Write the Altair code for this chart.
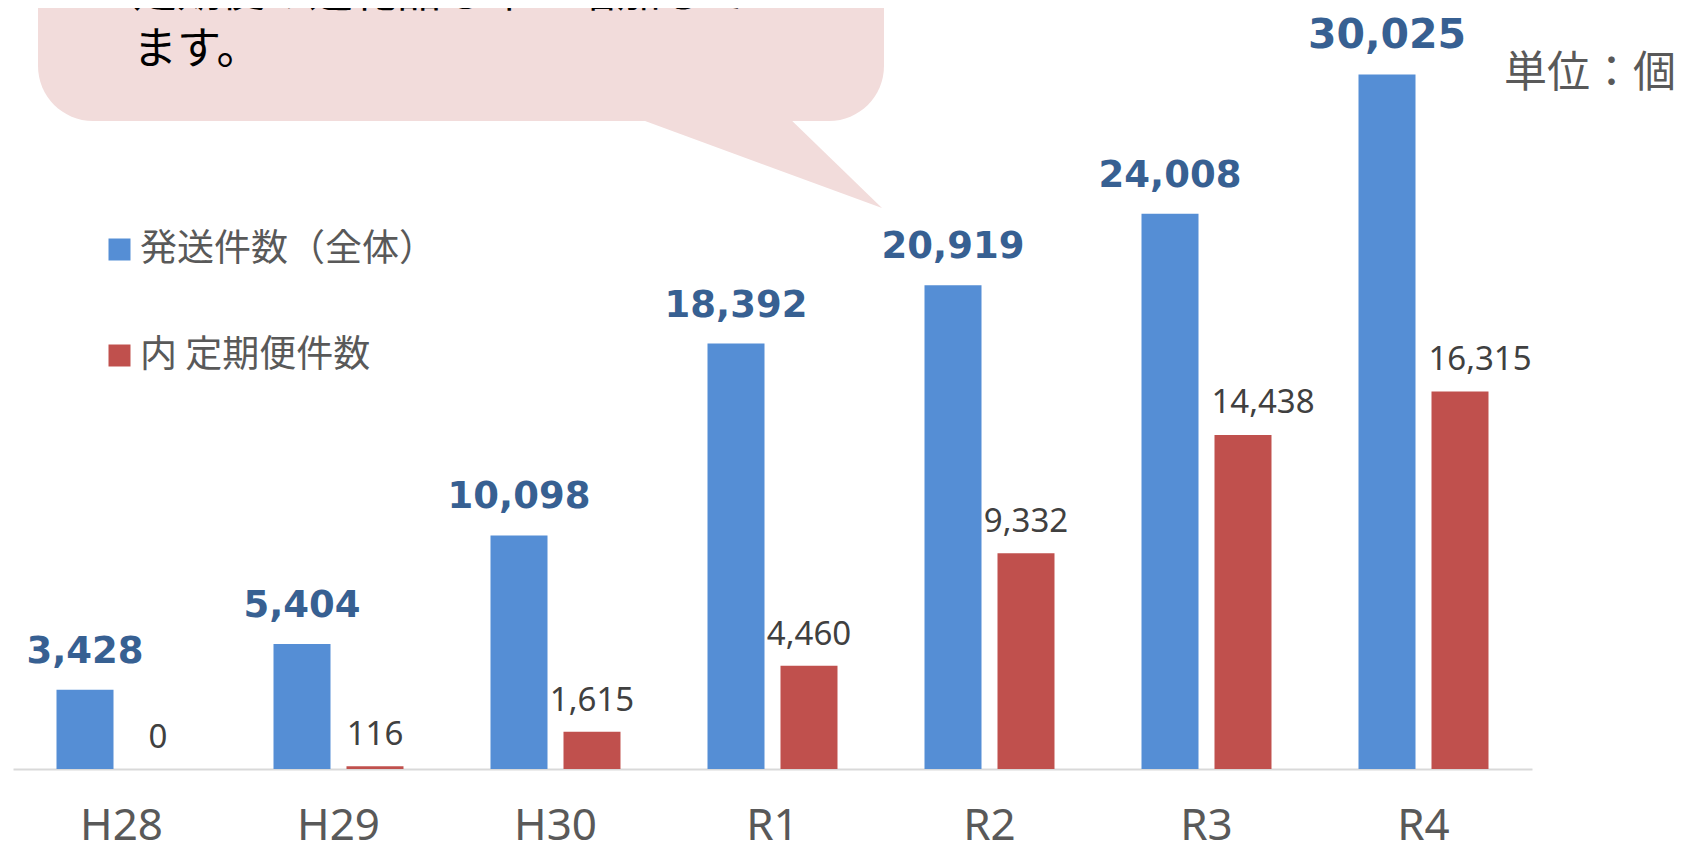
import altair as alt
import pandas as pd

years = ["H28", "H29", "H30", "R1", "R2", "R3", "R4"]
total = [3428, 5404, 10098, 18392, 20919, 24008, 30025]
teiki = [0, 116, 1615, 4460, 9332, 14438, 16315]
series_names = ["発送件数（全体）", "内 定期便件数"]
series_colors = ["#558ED5", "#C0504D"]
callout_lines = ["定期便の返礼品も年々増加してい", "ます。"]
unit_label = "単位：個"
nudged_years = ["R3", "R4"]  # red labels pushed right of their bars, as in the original

rows = []
for yr, t, k in zip(years, total, teiki):
    rows.append({"year": yr, "series": series_names[0], "value": t})
    rows.append({"year": yr, "series": series_names[1], "value": k})
df = pd.DataFrame(rows)

x_enc = alt.X(
    "year:N", sort=years,
    scale=alt.Scale(paddingInner=0, paddingOuter=0),
    axis=alt.Axis(title=None, labelAngle=0, labelFont="Noto Sans", labelFontSize=44,
                  labelColor="#595959", ticks=False, tickSize=0, labelPadding=35,
                  domainColor="#D9D9D9", domainWidth=2, grid=False),
)
xo_enc = alt.XOffset("series:N", sort=series_names,
                     scale=alt.Scale(domain=series_names, paddingInner=0.219, paddingOuter=0.596))
y_enc = alt.Y("value:Q", scale=alt.Scale(domain=[0, 32900], nice=False), axis=None)

one = pd.DataFrame({"k": [0]})

bubble = alt.Chart(one).mark_rect(color="#F2DCDB", cornerRadius=55).encode(
    x=alt.value(25), x2=alt.value(871), y=alt.value(-120), y2=alt.value(113)
)
tail = alt.Chart(one).mark_point(
    shape="M613,106L772,106L869,200Z", filled=True, color="#F2DCDB",
    size=4, opacity=1, strokeWidth=0
).encode(x=alt.value(0), y=alt.value(0))
callout = alt.Chart(one).mark_text(
    text=callout_lines, align="left", baseline="alphabetic", font="Noto Sans CJK JP",
    fontSize=44, color="#000000", lineHeight=57
).encode(x=alt.value(120), y=alt.value(-1))

bars = alt.Chart(df).mark_bar().encode(
    x=x_enc, xOffset=xo_enc, y=y_enc,
    color=alt.Color("series:N", sort=series_names,
                    scale=alt.Scale(domain=series_names, range=series_colors),
                    legend=alt.Legend(title=None, orient="none", legendX=88, legendY=223,
                                      symbolType="square", symbolSize=484, symbolStrokeWidth=0,
                                      symbolOpacity=1,
                                      labelFont="Noto Sans CJK JP", labelFontSize=37,
                                      labelColor="#595959", rowPadding=68, labelOffset=2,
                                      direction="vertical", padding=0, labelLimit=600)),
)

blue_labels = alt.Chart(df).transform_filter(
    alt.datum.series == series_names[0]
).mark_text(dy=-27, baseline="alphabetic", font="DejaVu Sans", fontWeight="bold",
            color="#376092").encode(
    x=x_enc, xOffset=xo_enc, y=y_enc,
    text=alt.Text("value:Q", format=","),
    size=alt.condition(alt.datum.year == "R4", alt.value(41), alt.value(37)),
)

red_base = alt.Chart(df).transform_filter(alt.datum.series == series_names[1])
red_labels = red_base.transform_filter(
    ~alt.FieldOneOfPredicate(field="year", oneOf=nudged_years)
).mark_text(dy=-21, baseline="alphabetic", font="Noto Sans", fontSize=33,
            color="#404040").encode(
    x=x_enc, xOffset=xo_enc, y=y_enc,
    text=alt.Text("value:Q", format=","),
)
red_labels_nudged = red_base.transform_filter(
    alt.FieldOneOfPredicate(field="year", oneOf=nudged_years)
).mark_text(dy=-22, dx=20, baseline="alphabetic", font="Noto Sans", fontSize=33,
            color="#404040").encode(
    x=x_enc, xOffset=xo_enc, y=y_enc,
    text=alt.Text("value:Q", format=","),
)

unit = alt.Chart(one).mark_text(
    text=unit_label, align="left", baseline="alphabetic", font="Noto Sans CJK JP",
    fontSize=43, color="#595959"
).encode(x=alt.value(1491), y=alt.value(79))

chart = alt.layer(bubble, tail, callout, bars, blue_labels, red_labels,
                  red_labels_nudged, unit).properties(
    width=1519, height=761,
    padding={"left": 5, "top": 0, "right": 148, "bottom": 72},
    autosize=alt.AutoSizeParams(type="none"),
    background="white",
).configure_view(stroke=None)

chart.save("out.html", embed_options={"renderer": "svg", "actions": False})
